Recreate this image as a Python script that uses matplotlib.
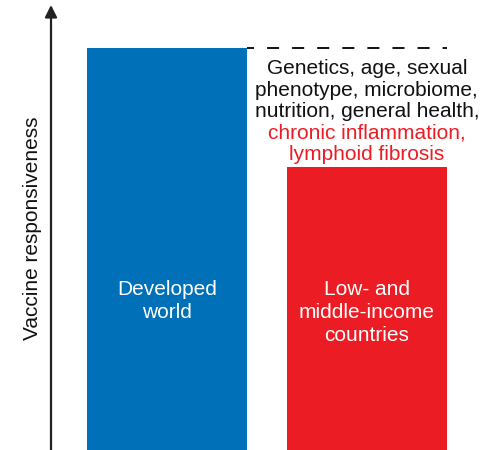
import matplotlib
matplotlib.use("Agg")
import matplotlib.pyplot as plt

plt.rcParams['font.family'] = ['Liberation Sans', 'DejaVu Sans']

# Data
groups = ["Developed\nworld", "Low- and\nmiddle-income\ncountries"]
responsiveness = [100, 70.5]
bar_colors = ["#0070B8", "#EC1C24"]
factors_black = ["Genetics, age, sexual", "phenotype, microbiome,", "nutrition, general health,"]
factors_red = ["chronic inflammation,", "lymphoid fibrosis"]
ylabel = "Vaccine responsiveness"

W, H = 487, 450
fig = plt.figure(figsize=(W / 100, H / 100), dpi=100)
ax = fig.add_axes([51 / W, 0, (W - 51) / W, 445 / H])

x = [0, 1]
bars = ax.bar(x, responsiveness, width=0.80, color=bar_colors, linewidth=0)
ax.set_xlim(-0.581, 1.602)
ax.set_ylim(0, 110.7)
for s in ax.spines.values():
    s.set_visible(False)
ax.set_xticks([])
ax.set_yticks([])

# Vertical axis with arrow head
ax.annotate("", xy=(0, 1), xytext=(0, 0), xycoords="axes fraction",
            arrowprops=dict(arrowstyle="-|>", color="#222222", lw=1.6,
                            mutation_scale=18, shrinkA=0, shrinkB=0))

# Dashed reference line at the top of the first bar
b0, b1 = bars[0], bars[1]
ax.plot([b0.get_x() + b0.get_width(), b1.get_x() + b1.get_width()],
        [responsiveness[0], responsiveness[0]],
        color="#111111", lw=1.4, linestyle=(2.6, (6.2, 6.7)),
        solid_capstyle="butt", dash_capstyle="butt")

# Labels inside bars
ax.text(x[0], 37.0, groups[0], color="white", fontsize=15,
        ha="center", va="center", linespacing=1.25)
ax.text(x[1], 34.2, groups[1], color="white", fontsize=15,
        ha="center", va="center", linespacing=1.25)

# Factor list above the second bar
lines = [(t, "#111111") for t in factors_black] + [(t, "#EC1C24") for t in factors_red]
y_top, step = 94.8, 5.33
for i, (t, c) in enumerate(lines):
    ax.text(x[1], y_top - i * step, t, color=c, fontsize=15,
            ha="center", va="center")

fig.text(33 / W, 1 - 228 / H, ylabel, rotation=90, fontsize=15,
         ha="center", va="center", color="#111111")

fig.savefig("out.png", dpi=100)
